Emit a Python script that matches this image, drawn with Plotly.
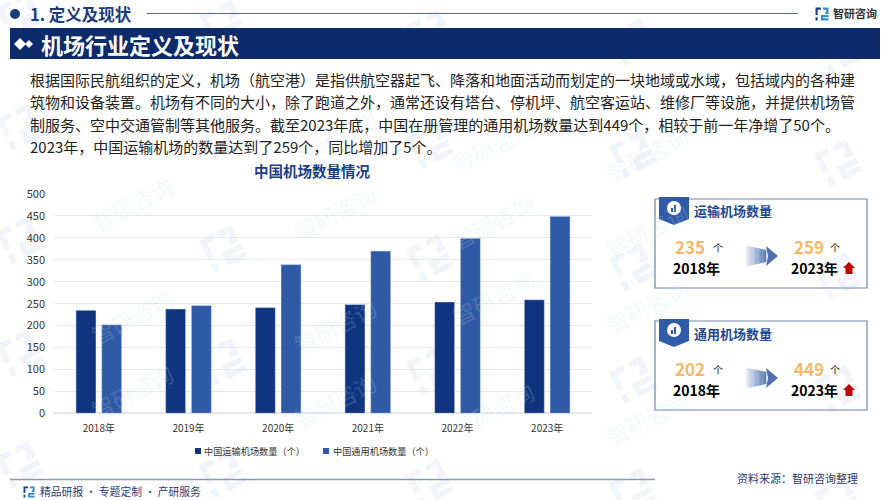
import plotly.graph_objects as go

W = 889
H = 500
FONT = "Noto Sans CJK SC"

years = ["2018年", "2019年", "2020年", "2021年", "2022年", "2023年"]
transport = [235, 238, 241, 248, 254, 259]
general = [202, 246, 339, 370, 399, 449]
y_ticks = [0, 50, 100, 150, 200, 250, 300, 350, 400, 450, 500]

transport_name = "中国运输机场数量（个）"
general_name = "中国通用机场数量（个）"

body_lines = [
    "根据国际民航组织的定义，机场（航空港）是指供航空器起飞、降落和地面活动而划定的一块地域或水域，包括域内的各种建",
    "筑物和设备装置。机场有不同的大小，除了跑道之外，通常还设有塔台、停机坪、航空客运站、维修厂等设施，并提供机场管",
    "制服务、空中交通管制等其他服务。截至2023年底，中国在册管理的通用机场数量达到449个，相较于前一年净增了50个。",
    "2023年，中国运输机场的数量达到了259个，同比增加了5个。",
]
body_y = [79, 101.5, 124, 146]

NAVY = "#0f3580"
BLUE = "#2f5aa6"
BANNER = "#0d2a6b"
ORANGE = "#f8b768"
MARK = "rgba(205,220,238,0.2)"

shapes = []
annotations = []


def px(x):
    return x / W


def py(y):
    return 1 - y / H


def text(x, y, s, size, color="#222222", bold=False, anchor="center"):
    if bold:
        s = "<b>" + s + "</b>"
    annotations.append(dict(x=px(x), y=py(y), xref="paper", yref="paper", text=s,
                            showarrow=False, xanchor=anchor, yanchor="middle",
                            font=dict(family=FONT, size=size, color=color)))


def rect(x0, y0, x1, y1, fill, line=None, width=0, layer="above"):
    shapes.append(dict(type="rect", xref="paper", yref="paper", layer=layer,
                       x0=px(x0), y0=py(y0), x1=px(x1), y1=py(y1), fillcolor=fill,
                       line=dict(color=line, width=width)))


def poly(points, fill, layer="above"):
    path = "M" + "L".join(f"{px(a):.5f},{py(b):.5f}" for a, b in points) + "Z"
    shapes.append(dict(type="path", xref="paper", yref="paper", layer=layer, path=path,
                       fillcolor=fill, line=dict(width=0)))


def hline(x0, x1, y, color, width):
    shapes.append(dict(type="line", xref="paper", yref="paper", x0=px(x0), x1=px(x1),
                       y0=py(y), y1=py(y), line=dict(color=color, width=width)))


def logo(x, y, s, color, color2=None, rotate=False, layer="above"):
    color2 = color2 or color
    pieces = [
        ([(0, 0), (5, 0), (5, 2), (2, 2), (2, 7), (0, 7)], color),
        ([(0, 9), (2, 9), (2, 12), (0, 12)], color),
        ([(7, 0), (12, 0), (12, 6), (9, 6), (9, 4), (10, 4), (10, 2), (7, 2)], color2),
        ([(5, 7), (12, 7), (12, 9), (7, 9), (7, 10), (12, 10), (12, 12), (5, 12)], color2),
    ]
    for pts, col in pieces:
        out = []
        for a, b in pts:
            a = (a - 6) * s / 12
            b = (b - 6) * s / 12
            if rotate:
                a, b = 0.89 * a + 0.45 * b, -0.45 * a + 0.89 * b
            out.append((x + a, y + b))
        poly(out, col, layer)


# watermark, text only where it fits inside the page
wm_x = [20, 223, 430, 633, 838]
wm_y = [15, 127, 240, 353, 465]
for i, x in enumerate(wm_x):
    for y in wm_y:
        yy = y + 9 * i
        logo(x, yy, 36, "rgba(205,220,238,0.28)", rotate=True, layer="below")
        if x + 63 + 55 < W and yy - 37 - 35 > 0:
            annotations.append(dict(x=px(x + 63), y=py(yy - 37), xref="paper", yref="paper",
                                    text="智研咨询", showarrow=False, textangle=-27,
                                    font=dict(family=FONT, size=22, color=MARK)))

# header
shapes.append(dict(type="circle", xref="paper", yref="paper", x0=px(10), x1=px(20), y0=py(9), y1=py(19),
                   fillcolor="#1a3a78", line=dict(width=0)))
text(28, 14, "1. 定义及现状", 16.5, "#1c3d7a", True, "left")
hline(147, 798, 13.5, "#5a6d96", 1.2)
logo(822, 14, 13, "#1b3f86", "#2f8fd0")
text(831, 13, "智研咨询", 11, "#333333", True, "left")
rect(10, 28, 880, 59, BANNER)
poly([(14, 44), (20, 38), (26, 44), (20, 50)], "#ffffff")
poly([(25, 44), (29, 40), (33, 44), (29, 48)], "#ffffff")
text(39, 44, "机场行业定义及现状", 22, "#ffffff", True, "left")

for line, y in zip(body_lines, body_y):
    text(27.5, y, line, 15, "#222222", False, "left")

text(312, 170, "中国机场数量情况", 14.5, "#1d3f83", True)

# legend
rect(195, 448, 201, 454, NAVY)
text(202, 451, transport_name, 9.2, "#333333", False, "left")
rect(323, 448, 329, 454, BLUE)
text(330.5, 451, general_name, 9.2, "#333333", False, "left")

# footer
hline(10, 655, 479.5, "#8c97ab", 1.5)
text(734.5, 478, "资料来源：智研咨询整理", 11, "#2a3a70", False, "left")
logo(29, 492, 11, "#1b3f86", "#2f8fd0")
text(38, 491, "精品研报 · 专题定制 · 产研服务", 10.8, "#1d3f83", False, "left")

# side panels
panels = [
    dict(top=199, title="运输机场数量", start=235, end=259),
    dict(top=321, title="通用机场数量", start=202, end=449),
]
for p in panels:
    t = p["top"]
    rect(655, t, 867, t + 89, "rgba(255,255,255,0)", "#6f83ad", 1.2)
    poly([(659, t - 2), (689, t - 2), (689, t + 20), (674, t + 26), (659, t + 20)], "#2f5ba8")
    shapes.append(dict(type="circle", xref="paper", yref="paper", x0=px(667), x1=px(681),
                       y0=py(t + 2), y1=py(t + 16), fillcolor="#ffffff", line=dict(width=0)))
    rect(671, t + 9, 673, t + 13, "#2f5ba8")
    rect(674, t + 6, 676, t + 13, "#2f5ba8")
    text(692, t + 12, p["title"], 13, "#1f4a94", True, "left")

    text(690, t + 47, str(p["start"]), 17, ORANGE, True)
    text(718, t + 48.5, "个", 10, "#111111")
    text(696, t + 69, "2018年", 14, "#000000", True)
    text(809, t + 47, str(p["end"]), 17, ORANGE, True)
    text(835, t + 48.5, "个", 10, "#111111")
    text(814, t + 69, "2023年", 14, "#000000", True)

    # gradient arrow built from thin slices
    cy = t + 57
    steps = 16
    for i in range(steps):
        x0 = 746 + i * 20 / steps
        x1 = x0 + 20 / steps + 0.3
        h0 = 10.5 - i * 4.5 / steps
        h1 = 10.5 - (i + 1) * 4.5 / steps
        f = i / steps
        col = f"rgb({int(232 - f * 150)},{int(237 - f * 120)},{int(246 - f * 70)})"
        poly([(x0, cy - h0), (x1, cy - h1), (x1, cy + h1), (x0, cy + h0)], col)
    poly([(766, cy - 10), (778, cy), (766, cy + 10), (768, cy)], "#4f70ac")

    # red up arrow
    ax = 849
    ay = t + 63
    poly([(ax, ay), (ax + 6, ay + 6), (ax + 3.5, ay + 6), (ax + 3.5, ay + 12), (ax - 3.5, ay + 12),
          (ax - 3.5, ay + 6), (ax - 6, ay + 6)], "#c00000")

fig = go.Figure()
fig.add_trace(go.Bar(x=years, y=transport, name=transport_name, marker_color=NAVY))
fig.add_trace(go.Bar(x=years, y=general, name=general_name, marker_color=BLUE))

fig.update_xaxes(domain=[px(54), px(592)], showgrid=False, showline=False, ticks="",
                 tickfont=dict(family=FONT, size=10, color="#333333"), ticklabelstandoff=8)
fig.update_yaxes(domain=[py(413.3), py(194)], range=[0, 500], tickvals=y_ticks,
                 gridcolor="#e4e7ec", gridwidth=1, zeroline=True, zerolinecolor="#e4e7ec",
                 showline=False, ticks="",
                 tickfont=dict(family=FONT, size=11, color="#333333"), ticklabelstandoff=8)
fig.update_layout(width=W, height=H, autosize=False,
                  margin=dict(l=0, r=0, t=0, b=0, autoexpand=False),
                  barmode="group", bargap=0.426, bargroupgap=0.22, showlegend=False,
                  paper_bgcolor="#ffffff", plot_bgcolor="rgba(0,0,0,0)",
                  shapes=shapes, annotations=annotations)

fig.write_html("out.html", config=dict(displayModeBar=False),
               post_script="document.body.style.margin='0';")
